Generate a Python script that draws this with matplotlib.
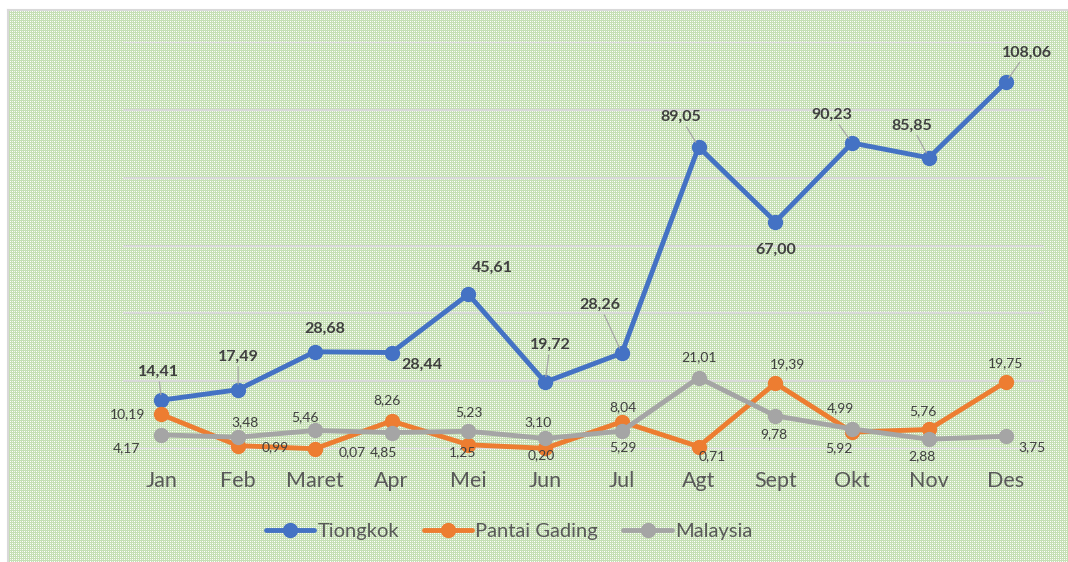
import numpy as np
import matplotlib
matplotlib.use("Agg")
import matplotlib.pyplot as plt
from matplotlib.lines import Line2D

months = ["Jan", "Feb", "Maret", "Apr", "Mei", "Jun", "Jul", "Agt", "Sept", "Okt", "Nov", "Des"]
tiongkok = [14.41, 17.49, 28.68, 28.44, 45.61, 19.72, 28.26, 89.05, 67.00, 90.23, 85.85, 108.06]
pantai_gading = [10.19, 0.99, 0.07, 8.26, 1.25, 0.20, 8.04, 0.71, 19.39, 4.99, 5.76, 19.75]
malaysia = [4.17, 3.48, 5.46, 4.85, 5.23, 3.10, 5.29, 21.01, 9.78, 5.92, 2.88, 3.75]
series_names = ["Tiongkok", "Pantai Gading", "Malaysia"]

# label offsets in pixels (style only)
off_t = [(-3, 28), (0, 33), (10, 23), (30, -12), (24, 27), (5, 37), (-22, 48),
         (-18, 30), (0, -28), (-20, 28), (-17, 32), (21, 30)]
lead_t = [True, True, False, False, False, True, True, True, False, True, True, True]
off_p = [(-34, 0), (37, -2), (37, -3), (-5, 21), (-6, -7), (-4, -7), (1, 15),
         (14, -10), (12, 19), (-12, 24), (-6, 18), (0, 19)]
off_m = [(-35, -13), (7, 15), (-10, 13), (-8, -20), (1, 19), (-7, 16), (1, -16),
         (0, 21), (-2, -18), (-13, -19), (-7, -17), (26, -11)]

W, H = 1068, 562
fig = plt.figure(figsize=(W / 100, H / 100), dpi=100, facecolor="white")

# patterned green background (texture)
ph, pw = H - 11, W - 8
ii, jj = np.mgrid[0:ph, 0:pw]
g = np.array([0.773, 0.878, 0.706])
w = np.array([1.0, 1.0, 1.0])
tex = np.empty((ph, pw, 3))
tex[:] = g
mask_w = ((ii % 4 == 0) & (jj % 4 == 0)) | ((ii % 4 == 2) & (jj % 4 == 2))
mask_l = ((ii % 4 == 0) & (jj % 4 == 2)) | ((ii % 4 == 2) & (jj % 4 == 0))
tex[mask_w] = w
tex[mask_l] = 0.25 * g + 0.75 * w
fig.figimage(tex, xo=8, yo=0, origin="upper", zorder=-5)

# border lines
fig.add_artist(Line2D([7.5 / W, 7.5 / W], [0, 1 - 10 / H], transform=fig.transFigure,
                      color="#d9d9d9", lw=1.5, zorder=-4))
fig.add_artist(Line2D([7.5 / W, 1], [1 - 10 / H, 1 - 10 / H], transform=fig.transFigure,
                      color="#d9d9d9", lw=1.5, zorder=-4))

ax = fig.add_axes([123 / W, 113 / H, (1044 - 123) / W, (449 - 42) / H])
ax.set_zorder(1)
ax.patch.set_alpha(0)
x = np.arange(len(months))
ax.set_xlim(-0.5, len(months) - 0.5)
ax.set_ylim(0, 120)
ax.set_yticks(np.arange(0, 121, 20))
ax.yaxis.grid(True, color="#d9d9d9", lw=1.6)
ax.set_axisbelow(True)
for s in ax.spines.values():
    s.set_visible(False)
ax.tick_params(axis="y", left=False, labelleft=False)
ax.tick_params(axis="x", length=0, pad=15.5, labelsize=15.5, labelcolor="#595959")
ax.set_xticks(x)
ax.set_xticklabels(months, fontfamily="Lato")

colors = ["#4472c4", "#ed7d31", "#a5a5a5"]
datas = [tiongkok, pantai_gading, malaysia]
for k, (d, c, n) in enumerate(zip(datas, colors, series_names)):
    ax.plot(x, d, color=c, lw=3.5, marker="o", ms=10, label=n, clip_on=False,
            zorder=3 + k, solid_capstyle="round", solid_joinstyle="round")

def fmt(v):
    return f"{v:.2f}".replace(".", ",")

for i, v in enumerate(tiongkok):
    ap = dict(arrowstyle="-", color="#a6a6a6", lw=0.9, shrinkA=0, shrinkB=4) if lead_t[i] else None
    ax.annotate(fmt(v), xy=(i, v), xytext=off_t[i], textcoords="offset pixels",
                ha="center", va="center", fontsize=11.5, fontweight="bold",
                color="#404040", fontfamily="Lato", arrowprops=ap, zorder=10,
                annotation_clip=False)
for i, v in enumerate(pantai_gading):
    ax.annotate(fmt(v), xy=(i, v), xytext=off_p[i], textcoords="offset pixels",
                ha="center", va="center", fontsize=10, color="#404040",
                fontfamily="Lato", zorder=10, annotation_clip=False)
for i, v in enumerate(malaysia):
    ax.annotate(fmt(v), xy=(i, v), xytext=off_m[i], textcoords="offset pixels",
                ha="center", va="center", fontsize=10, color="#404040",
                fontfamily="Lato", zorder=10, annotation_clip=False)

leg = fig.legend(loc="center", bbox_to_anchor=(509 / W, 1 - 531 / H), ncol=3,
                 frameon=False, handlelength=2.4, handletextpad=0.15,
                 columnspacing=1.25, prop={"family": "Lato", "size": 14.5})
for t in leg.get_texts():
    t.set_color("#595959")

fig.savefig("out.png", dpi=100, facecolor="white")
